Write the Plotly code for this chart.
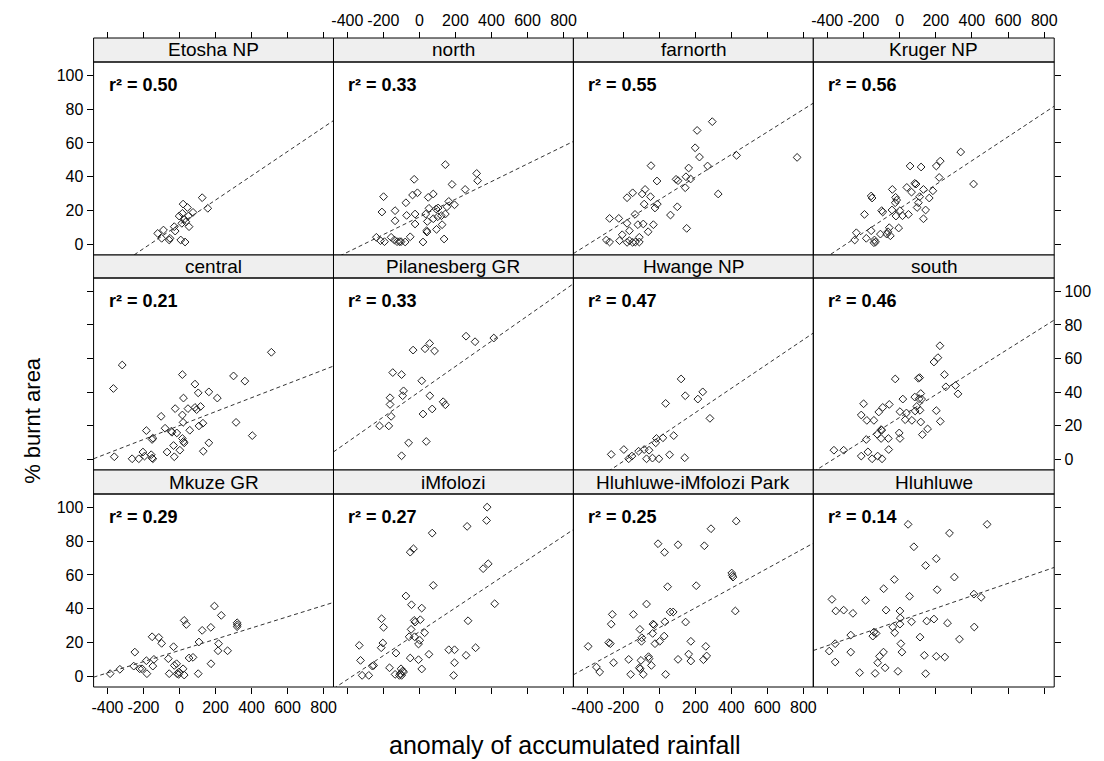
import plotly.graph_objects as go

W, H = 1104, 761

panels = ["Etosha NP", "north", "farnorth", "Kruger NP",
          "central", "Pilanesberg GR", "Hwange NP", "south",
          "Mkuze GR", "iMfolozi", "Hluhluwe-iMfolozi Park", "Hluhluwe"]
r2_labels = ["0.50", "0.33", "0.55", "0.56", "0.21", "0.33",
             "0.47", "0.46", "0.29", "0.27", "0.25", "0.14"]

etosha_x = [126, 157, 20, 44, 75, 16, -2, 49, 27, 35, 13, 53, -29, -24, -89, -121, -99, -53, -57, 7, 31]
etosha_y = [27.5, 21.2, 23.7, 21.7, 18.8, 18.2, 16.6, 16.6, 14.6, 13.2, 12.3, 10.3, 10.3, 7.7, 8.3, 6.3, 3.4, 3.4, 2.4, 2.4, 1.2]

north_x = [144, 318, 323, -29, 181, 254, -199, -38, -11, 49, 77, -75, 163, 195, -208, -135, 53, 93, 104, 153,
           -71, -24, 35, 77, 102, 122, 144, -135, 44, -24, 126, 40, 42, 95, -239, -216, -194, -157, -139, -124,
           -111, -102, -79, -51, 20, 137]
north_y = [47.1, 41.9, 37.6, 38.4, 35.4, 32.4, 28.1, 29.1, 30.4, 27.7, 29.7, 24.5, 25.3, 23.3, 19.0, 19.8, 21.2, 20.8, 21.4, 22.1,
           17.0, 17.8, 17.8, 15.0, 16.2, 16.8, 17.8, 13.8, 13.4, 11.9, 11.5, 7.9, 7.1, 8.7, 4.0, 2.0, 1.4, 4.0, 2.4, 1.4,
           1.4, 1.4, 1.2, 4.3, 1.2, 3.0]

farnorth_x = [294, 210, 199, 223, 429, 765, 268, 163, -46, 148, 174, 93, 104, -13, 144, -79, -95, -148, -179, -49,
              327, -84, -11, -24, 100, -135, 62, -276, -225, -179, -119, -89, -33, 152, -166, -62, -206, -111, -294, -276,
              -221, -179, -166, -148, -133, -111]
farnorth_y = [72.6, 67.4, 57.1, 51.6, 52.6, 51.4, 46.3, 45.1, 46.5, 39.9, 38.6, 38.4, 37.6, 37.4, 33.4, 32.4, 29.7, 30.4, 27.5, 28.1,
              29.7, 23.7, 23.7, 21.4, 22.1, 17.6, 17.2, 15.2, 15.2, 12.3, 11.5, 11.9, 11.5, 9.3, 7.9, 7.3, 5.5, 4.0, 2.4, 1.2,
              2.0, 1.0, 2.0, 1.0, 1.2, 1.2]

kruger_x = [338, 225, 203, 58, 119, 219, 409, 84, 91, 40, 66, -40, 132, 184, -157, -152, -22, -16, -24, 111,
            164, 104, -42, 2, -99, -93, 97, 144, -194, -20, 16, 49, 132, -57, -5, -239, -248, -157, -106, -71,
            -64, -51, -184, -139, -133, -142]
kruger_y = [54.6, 49.2, 46.3, 46.3, 45.7, 39.5, 35.6, 36.0, 35.6, 33.6, 30.8, 32.4, 32.4, 31.6, 28.5, 27.3, 27.7, 26.1, 24.5, 28.1,
            27.3, 24.5, 20.2, 19.8, 19.8, 19.0, 21.7, 20.2, 17.6, 16.6, 16.8, 17.6, 15.0, 9.7, 9.5, 6.7, 2.4, 7.9, 5.9, 5.9,
            7.3, 4.9, 3.4, 2.4, 1.2, 0.8]

central_x = [510, -318, -367, 16, 300, 363, 86, 104, 163, 22, 210, -24, 47, 86, 117, 95, 16, -102, 314, 20,
             108, 130, -80, -46, -42, -184, -15, 57, -148, -152, 16, 22, 26, 404, 163, -33, 2, -69, -29, 132,
             -362, -263, -226, -203, -194, -157, -152, -148]
central_y = [63.7, 56.1, 42.1, 50.4, 49.6, 46.5, 44.7, 39.5, 40.1, 36.4, 36.4, 30.1, 30.1, 30.8, 31.4, 29.5, 26.3, 25.5, 21.9, 21.9,
             19.8, 21.4, 18.4, 16.6, 16.0, 17.0, 15.6, 17.2, 12.5, 11.7, 12.3, 10.5, 9.7, 14.0, 9.7, 8.1, 5.3, 4.2, 1.4, 4.7,
             1.4, 0.2, 0.2, 4.2, 1.8, 2.6, 0.6, 0.2]

pilanesberg_x = [259, 309, 413, -35, 31, 57, 84, -148, -99, 13, -88, -93, 58, -163, -163, 132, 144, 71, 20, -157,
                 -221, -170, -60, 38, -99]
pilanesberg_y = [73.3, 70.0, 72.2, 65.0, 65.8, 69.0, 64.5, 51.6, 50.4, 46.7, 40.7, 37.8, 37.8, 36.6, 32.6, 34.2, 32.4, 29.9, 26.9, 25.5,
                 19.8, 19.8, 9.7, 10.5, 2.0]

hwange_x = [121, 144, 241, 214, 35, 281, 80, -16, 20, -20, -267, -197, -170, -152, -115, -84, -57, -71, -38, -2,
            57, 141]
hwange_y = [47.8, 37.8, 40.1, 35.8, 33.2, 24.3, 14.0, 12.3, 12.7, 9.7, 2.8, 5.7, 0.2, 1.8, 4.7, 5.7, 5.3, 0.2, 0.6, 0.2,
            2.6, 0.8]

south_x = [223, 212, 190, 248, -24, 104, 111, 256, 309, 323, 117, 84, 122, 108, 18, -199, -93, -57, -115, 95,
           86, 113, 2, 38, 203, -212, -181, -142, 31, 68, 225, 117, -102, -99, 155, 126, -124, -2, 2, -102,
           -62, -184, -363, -309, -175, -212, -152, -121, -97, -60]
south_y = [67.6, 60.5, 57.9, 50.4, 47.8, 48.2, 48.6, 43.1, 43.9, 38.9, 39.1, 37.0, 35.8, 36.0, 35.8, 33.0, 30.8, 32.6, 28.1, 31.4,
           28.7, 29.1, 28.3, 27.5, 28.9, 26.3, 23.1, 23.1, 23.5, 23.1, 22.5, 22.1, 17.6, 17.2, 18.0, 14.6, 14.8, 15.6, 12.3, 12.3,
           12.3, 11.7, 5.3, 5.3, 4.3, 1.8, 0.2, 1.8, 0.2, 5.7]

mkuze_x = [194, 232, 26, 38, 320, 321, 320, 126, 174, -152, -115, -99, 108, 217, -33, -248, 53, 75, 214, 267,
           -184, -142, -148, -62, -29, -16, -221, -208, -181, 20, -2, -13, -5, 26, -57, 104, 175, -385, -331, -254]
mkuze_y = [41.5, 36.0, 33.0, 30.6, 31.6, 30.4, 29.3, 27.1, 28.9, 23.3, 22.9, 19.4, 20.2, 19.2, 17.4, 14.2, 10.7, 11.1, 15.0, 15.0,
           9.1, 9.9, 5.9, 10.3, 6.3, 7.3, 4.3, 4.3, 1.4, 4.3, 2.4, 1.4, 1.0, 0.6, 1.4, 1.4, 7.3, 1.4, 4.0, 5.9]

imfolozi_x = [376, 373, 265, 71, -33, -51, 382, 354, 77, 418, -75, -44, 13, -210, -199, 5, -29, -24, 270, -46,
              29, -57, -27, 2, -5, -203, -212, -334, -130, 163, 195, 312, 53, 259, -51, -5, -327, -261, -254, 195,
              -166, -102, -93, -88, 13, -318, -281, -135, -111, -99, -106, 190]
imfolozi_y = [100.2, 92.3, 88.8, 84.8, 75.5, 73.5, 66.6, 63.7, 53.8, 42.9, 47.5, 42.3, 40.3, 34.0, 28.9, 33.4, 33.0, 32.0, 32.8, 27.7,
              25.7, 23.3, 23.3, 21.2, 19.0, 19.6, 16.8, 18.2, 13.6, 15.6, 15.6, 16.8, 12.9, 12.3, 10.7, 9.7, 9.3, 5.9, 6.3, 7.9,
              4.9, 4.3, 3.0, 2.4, 4.2, 0.4, 0.4, 1.0, 0.4, 0.4, 1.4, 0.4]

hip_x = [427, 287, -7, 104, 250, 29, 402, 405, 409, 46, 205, -71, 60, 77, -261, -144, -267, 31, -35, -29,
         146, 422, -108, -37, -97, -99, 27, 2, -24, -281, -272, 175, -395, 258, 163, 263, 245, 175, 104, -60,
         -57, -170, -102, -254, -44, -111, -106, -349, -331, -159, -89, 35]
hip_y = [91.9, 87.4, 78.5, 77.9, 77.3, 73.4, 61.1, 59.7, 58.7, 53.0, 53.6, 42.7, 38.0, 38.0, 36.6, 36.6, 30.8, 32.2, 30.8, 30.4,
         32.0, 38.6, 27.7, 25.3, 22.7, 20.6, 23.7, 20.6, 19.2, 19.8, 19.2, 20.6, 17.6, 17.6, 13.0, 11.9, 9.7, 8.9, 9.9, 11.5,
         10.3, 9.9, 9.3, 7.9, 6.3, 4.9, 4.3, 5.3, 2.4, 1.0, 1.0, 1.0]

hluhluwe_x = [47, 484, 276, 79, 144, 203, -29, 303, -88, 208, 55, 411, 451, -374, -188, -353, -309, -258, -75, 2,
              4, 66, 2, 150, 190, 265, -38, -27, -142, -130, -148, -270, 413, 113, 331, -356, -389, 7, -270, -89,
              -111, 13, -121, -80, 137, 203, 250, -356, -221, -135, -9, 144]
hluhluwe_y = [90.0, 90.0, 84.8, 76.7, 65.6, 69.6, 57.3, 58.7, 51.8, 51.2, 47.3, 48.6, 46.7, 45.5, 44.9, 38.6, 39.1, 37.2, 39.1, 38.6,
              34.4, 32.2, 30.8, 32.6, 33.8, 31.4, 29.1, 25.7, 26.1, 25.3, 23.7, 24.3, 29.1, 23.1, 21.9, 19.2, 14.8, 19.2, 14.2, 14.2,
              11.7, 14.2, 7.9, 4.9, 12.3, 11.7, 11.3, 8.3, 2.0, 1.6, 2.8, 1.4]

panel_x = [etosha_x, north_x, farnorth_x, kruger_x, central_x, pilanesberg_x,
           hwange_x, south_x, mkuze_x, imfolozi_x, hip_x, hluhluwe_x]
panel_y = [etosha_y, north_y, farnorth_y, kruger_y, central_y, pilanesberg_y,
           hwange_y, south_y, mkuze_y, imfolozi_y, hip_y, hluhluwe_y]

line_intercept = [11.7, 16.1, 26.3, 21.0, 20.0, 40.2, 13.2, 24.8, 15.2, 26.3, 28.7, 32.8]
line_slope = [0.072, 0.0524, 0.067, 0.0711, 0.0415, 0.0753, 0.0725, 0.068, 0.0333, 0.0709, 0.0586, 0.037]

x_ticks = [-400, -200, 0, 200, 400, 600, 800]
x_tick_text = ["-400", "-200", "0", "200", "400", "600", "800"]
y_ticks = [0, 20, 40, 60, 80, 100]
y_tick_text = ["0", "20", "40", "60", "80", "100"]

X_RANGE = [-477, 855]
Y_RANGE = [-6.5, 108]

# layout in pixels
col_edges = [92, 333, 574, 815, 1057]
strip_top = [38, 255, 470]
plot_top = [62, 278, 494]
plot_bot = [255, 470, 687]

FONT = "Liberation Sans, Arial, sans-serif"
TICK_FONT = dict(family=FONT, size=16, color="black")


def px_x(p):
    return p / W


def px_y(p):
    return 1 - p / H


fig = go.Figure()
layout = dict(width=W, height=H, margin=dict(l=0, r=0, t=0, b=0),
              paper_bgcolor="white", plot_bgcolor="white", showlegend=False)
shapes = []
annotations = []

for i, name in enumerate(panels):
    r, c = divmod(i, 4)
    k = i + 1
    xa = "x" if k == 1 else f"x{k}"
    ya = "y" if k == 1 else f"y{k}"
    fig.add_trace(go.Scatter(
        x=panel_x[i], y=panel_y[i], mode="markers", xaxis=xa, yaxis=ya,
        marker=dict(symbol="diamond-open", size=6, color="#222222", line=dict(width=1, color="#222222")),
        hoverinfo="skip"))
    lx = list(X_RANGE)
    ly = [line_intercept[i] + line_slope[i] * v for v in lx]
    fig.add_trace(go.Scatter(
        x=lx, y=ly, mode="lines", xaxis=xa, yaxis=ya,
        line=dict(color="#333333", width=1, dash="4px,3px"), hoverinfo="skip"))

    xdom = [px_x(col_edges[c]), px_x(col_edges[c + 1])]
    ydom = [px_y(plot_bot[r]), px_y(plot_top[r])]

    xaxis = dict(domain=xdom, range=X_RANGE, showgrid=False, zeroline=False,
                 showline=False, tickvals=x_ticks, ticktext=x_tick_text, ticks="",
                 showticklabels=False, tickfont=TICK_FONT, anchor=ya)
    yaxis = dict(domain=ydom, range=Y_RANGE, showgrid=False, zeroline=False,
                 showline=False, tickvals=y_ticks, ticktext=y_tick_text, ticks="",
                 showticklabels=False, tickfont=TICK_FONT, anchor=xa)
    if r == 2:
        xaxis.update(ticks="outside", ticklen=6, tickcolor="black", side="bottom",
                     showticklabels=(c in (0, 2)))
    if r == 0:
        xaxis.update(anchor="free", position=px_y(strip_top[0]), side="top",
                     ticks="outside", ticklen=6, tickcolor="black",
                     showticklabels=(c in (1, 3)))
    if c == 0:
        yaxis.update(ticks="outside", ticklen=6, tickcolor="black", side="left",
                     showticklabels=(r in (0, 2)))
    if c == 3:
        yaxis.update(ticks="outside", ticklen=6, tickcolor="black", side="right",
                     showticklabels=(r == 1))
    layout["xaxis" if k == 1 else f"xaxis{k}"] = xaxis
    layout["yaxis" if k == 1 else f"yaxis{k}"] = yaxis

    # strip
    shapes.append(dict(type="rect", xref="paper", yref="paper", layer="above",
                       x0=xdom[0], x1=xdom[1], y0=px_y(plot_top[r]), y1=px_y(strip_top[r]),
                       fillcolor="#efefef", line=dict(color="black", width=1)))
    # panel border
    shapes.append(dict(type="rect", xref="paper", yref="paper", layer="above",
                       x0=xdom[0], x1=xdom[1], y0=ydom[0], y1=ydom[1],
                       fillcolor="rgba(0,0,0,0)", line=dict(color="black", width=1)))
    annotations.append(dict(text=name, xref="paper", yref="paper",
                            x=(xdom[0] + xdom[1]) / 2,
                            y=px_y((strip_top[r] + plot_top[r]) / 2),
                            xanchor="center", yanchor="middle", showarrow=False,
                            font=dict(family=FONT, size=19, color="black")))
    annotations.append(dict(text=f"<b>r² = {r2_labels[i]}</b>", xref="paper", yref="paper",
                            x=px_x(col_edges[c] + 13), y=px_y(plot_top[r] + 23),
                            xanchor="left", yanchor="middle", showarrow=False,
                            font=dict(family=FONT, size=18, color="black")))

annotations.append(dict(text="% burnt area", xref="paper", yref="paper",
                        x=px_x(30), y=px_y(420), textangle=-90,
                        xanchor="center", yanchor="middle", showarrow=False,
                        font=dict(family=FONT, size=22, color="black")))
annotations.append(dict(text="anomaly of accumulated rainfall", xref="paper", yref="paper",
                        x=px_x(566), y=px_y(745),
                        xanchor="center", yanchor="middle", showarrow=False,
                        font=dict(family=FONT, size=25, color="black")))

layout["shapes"] = shapes
layout["annotations"] = annotations
fig.update_layout(**layout)
fig.write_html("out.html")
